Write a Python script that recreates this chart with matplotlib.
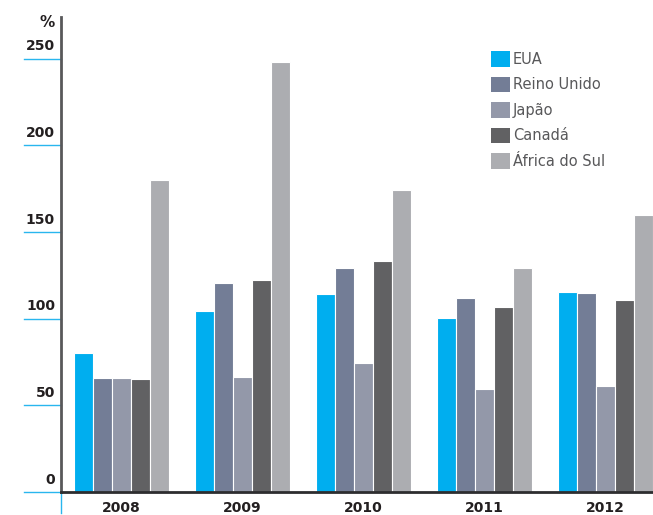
import matplotlib
matplotlib.use('Agg')
import matplotlib.pyplot as plt
import matplotlib.transforms as mtransforms
import numpy as np

years = ['2008', '2009', '2010', '2011', '2012']
countries = ['EUA', 'Reino Unido', 'Japão', 'Canadá', 'África do Sul']
colors = ['#00aeef', '#737d96', '#9398a9', '#616163', '#acadb1']

eua = [80, 104.5, 114, 100.5, 115.5]
reino_unido = [66, 120.5, 129, 112, 115]
japao = [66, 66.5, 74.5, 59.5, 61]
canada = [65, 122.5, 133.5, 107, 110.5]
africa_sul = [180, 248, 174, 129, 160]

series = [eua, reino_unido, japao, canada, africa_sul]
yticks = [0, 50, 100, 150, 200, 250]

W, H = 653, 515
fig = plt.figure(figsize=(W / 100, H / 100), dpi=100)
ax = fig.add_axes([61 / W, 23 / H, 1 - 61 / W, 475 / H])

x = np.arange(len(years))
bw = 0.157
for i, (vals, col, name) in enumerate(zip(series, colors, countries)):
    ax.bar(x + (i - 2) * bw, vals, width=bw, color=col, edgecolor='white',
           linewidth=0.8, label=name, zorder=2)

ax.set_xlim(-0.5, 4.39)
ax.set_ylim(0, 274)

for s in ['top', 'right']:
    ax.spines[s].set_visible(False)
ax.spines['left'].set_color('#58585a')
ax.spines['left'].set_linewidth(2)
ax.spines['bottom'].set_color('#2d2d2f')
ax.spines['bottom'].set_linewidth(2)
ax.set_xticks([])
ax.set_yticks([])

# y tick labels sitting on short blue lines
trans = mtransforms.blended_transform_factory(fig.transFigure, ax.transData)
for t in yticks:
    ax.plot([24 / W, 61 / W], [t, t], transform=trans, color='#29b6ee',
            linewidth=1, clip_on=False)
    ax.text(55 / W, t + 3, str(t), transform=trans, ha='right', va='bottom',
            fontsize=10, fontweight='bold', color='#231f20')
ax.text(55 / W, 1 - 30 / H, '%', transform=fig.transFigure, ha='right',
        va='bottom', fontsize=11, fontweight='bold', color='#231f20')

# small blue tick below origin
ax.plot([61 / W, 61 / W], [2 / H, 23 / H], transform=fig.transFigure,
        color='#29b6ee', linewidth=1, clip_on=False)

# year labels
transx = mtransforms.blended_transform_factory(ax.transData, fig.transFigure)
for xi, yr in zip(x, years):
    ax.text(xi, 7 / H, yr, transform=transx, ha='center', va='center',
            fontsize=10, fontweight='bold', color='#231f20')

leg = ax.legend(loc='upper left', bbox_to_anchor=(491 / W, 1 - 51 / H),
                bbox_transform=fig.transFigure, frameon=False, fontsize=10.5,
                handlelength=1.3, handleheight=1.3, handletextpad=0.2,
                labelspacing=0.66, borderpad=0, borderaxespad=0)
for txt in leg.get_texts():
    txt.set_color('#58585a')
for h in leg.legend_handles:
    h.set_edgecolor('none')

fig.savefig('out.png', dpi=100)
